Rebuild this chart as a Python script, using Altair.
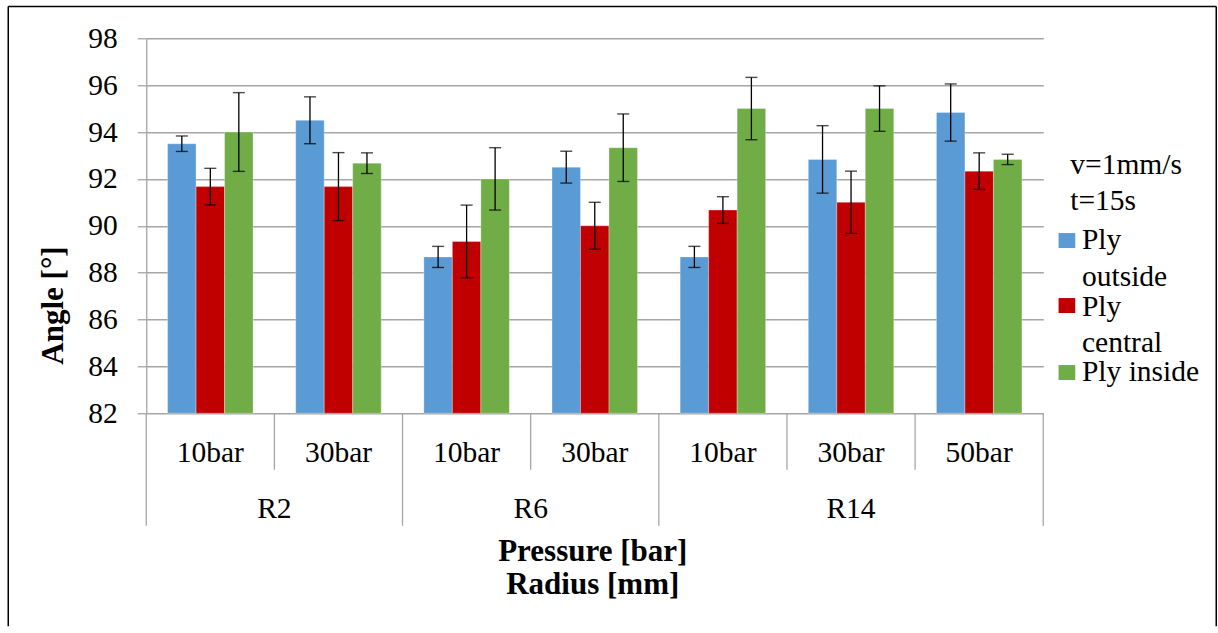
import altair as alt
import pandas as pd

# ---------------- data ----------------
radii = ["R2", "R2", "R6", "R6", "R14", "R14", "R14"]
pressures = ["10bar", "30bar", "10bar", "30bar", "10bar", "30bar", "50bar"]
series = ["Ply outside", "Ply central", "Ply inside"]
colors = ["#5B9BD5", "#C00000", "#70AD47"]

outside = [93.5, 94.5, 88.67, 92.5, 88.67, 92.83, 94.83]
outside_err = [0.33, 1.0, 0.45, 0.68, 0.45, 1.44, 1.22]
central = [91.67, 91.67, 89.33, 90.0, 90.67, 91.0, 92.33]
central_err = [0.78, 1.45, 1.55, 1.0, 0.57, 1.33, 0.78]
inside = [94.0, 92.67, 92.0, 93.33, 95.0, 95.0, 92.83]
inside_err = [1.68, 0.44, 1.33, 1.44, 1.33, 0.97, 0.22]

y_ticks = [82, 84, 86, 88, 90, 92, 94, 96, 98]
y_title = "Angle [°]"
x_title = ["Pressure [bar]", "Radius [mm]"]
legend_title = ["v=1mm/s", "t=15s"]
legend_lines = [["Ply", "outside"], ["Ply", "central"], ["Ply inside"]]

# ---------------- layout constants ----------------
W, H = 897, 375
FONT = "Liberation Serif, Times New Roman, serif"
FS = 29.5
FSB = 31
GRAY = "#A6A6A6"
BAR_FRAC = 0.2224  # bar width as fraction of one category slot

values = [outside, central, inside]
errors = [outside_err, central_err, inside_err]
n = len(pressures)

rows = []
for s, name in enumerate(series):
    for i in range(n):
        cx = i + 0.5 + (s - 1) * BAR_FRAC
        rows.append({
            "series": name, "pos": i, "value": values[s][i], "err": errors[s][i],
            "x0": cx - BAR_FRAC / 2, "x1": cx + BAR_FRAC / 2, "cx": cx,
            "lo": values[s][i] - errors[s][i], "hi": values[s][i] + errors[s][i],
            "base": y_ticks[0],
        })
df = pd.DataFrame(rows)

xscale = alt.Scale(domain=[0, n], nice=False, zero=False)
yscale = alt.Scale(domain=[y_ticks[0], y_ticks[-1]], nice=False, zero=False)
yaxis = alt.Axis(values=y_ticks, title=None, grid=True, gridColor=GRAY, gridWidth=1.3,
                 domainColor=GRAY, domainWidth=1.3, tickColor=GRAY, tickSize=9, tickWidth=1.3,
                 labelFont=FONT, labelFontSize=FS, labelColor="black", labelPadding=20,
                 labelFlush=False, labelOverlap=False)
color = alt.Color("series:N", scale=alt.Scale(domain=series, range=colors), legend=None)

bars = alt.Chart(df).mark_bar(stroke="white", strokeWidth=0.6, strokeOpacity=0.5).encode(
    x=alt.X("x0:Q", scale=xscale, axis=None),
    x2="x1:Q",
    y=alt.Y("value:Q", scale=yscale, axis=yaxis),
    y2="base:Q",
    color=color,
)

err_rule = alt.Chart(df).mark_rule(color="black", strokeWidth=1.3).encode(
    x=alt.X("cx:Q", scale=xscale, axis=None),
    y=alt.Y("lo:Q", scale=yscale, axis=yaxis),
    y2="hi:Q",
)
caps = alt.Chart(df).transform_fold(["lo", "hi"], as_=["end", "yv"]).mark_tick(
    orient="horizontal", size=12, thickness=1.4, color="black"
).encode(
    x=alt.X("cx:Q", scale=xscale, axis=None),
    y=alt.Y("yv:Q", scale=yscale, axis=yaxis),
)

# category separators below the axis
sep_rows = []
for b in range(n + 1):
    long_ = b == 0 or b == n or radii[b] != radii[b - 1]
    sep_rows.append({"b": b, "long": long_})
sep = pd.DataFrame(sep_rows)
sep_short = alt.Chart(sep[~sep["long"]]).mark_rule(color=GRAY, strokeWidth=1.3).encode(
    x=alt.X("b:Q", scale=xscale, axis=None), y=alt.value(H), y2=alt.value(H + 56.5))
sep_long = alt.Chart(sep[sep["long"]]).mark_rule(color=GRAY, strokeWidth=1.3).encode(
    x=alt.X("b:Q", scale=xscale, axis=None), y=alt.value(H), y2=alt.value(H + 112.5))

plab = pd.DataFrame({"pc": [i + 0.5 for i in range(n)], "t": pressures})
press_text = alt.Chart(plab).mark_text(font=FONT, fontSize=FS, color="black",
                                       baseline="alphabetic", align="center").encode(
    x=alt.X("pc:Q", scale=xscale, axis=None), y=alt.value(H + 48.3), text="t:N")

rad_rows = []
for r in dict.fromkeys(radii):
    idx = [i for i, v in enumerate(radii) if v == r]
    rad_rows.append({"rc": (idx[0] + idx[-1]) / 2 + 0.5, "t": r})
rad_text = alt.Chart(pd.DataFrame(rad_rows)).mark_text(
    font=FONT, fontSize=FS, color="black", baseline="alphabetic", align="center").encode(
    x=alt.X("rc:Q", scale=xscale, axis=None), y=alt.value(H + 104.3), text="t:N")

one = pd.DataFrame({"a": [0]})


def text_at(txt, x, y, bold=False, align="left", angle=None, size=FS):
    kw = dict(font=FONT, fontSize=size, color="black", baseline="alphabetic", align=align,
              text=txt)
    if bold:
        kw["fontWeight"] = "bold"
    if angle is not None:
        kw["angle"] = angle
    return alt.Chart(one).mark_text(**kw).encode(x=alt.value(x), y=alt.value(y))


layers = [bars, err_rule, caps, sep_short, sep_long, press_text, rad_text]

# axis titles
layers.append(text_at(x_title[0], W / 2 - 2, H + 147.3, bold=True, align="center", size=FSB))
layers.append(text_at(x_title[1], W / 2 - 2, H + 180.3, bold=True, align="center", size=FSB))
layers.append(text_at(y_title, -83, 267.3, bold=True, align="center", angle=270, size=FSB))

# legend
layers.append(text_at(legend_title[0], 924, 135.6))
layers.append(text_at(legend_title[1], 924, 171.3))
sq_centers = [202.3, 267.3, 334.3]
first_base = [210.6, 277.3, 342.3]
for s in range(len(series)):
    layers.append(alt.Chart(one).mark_rect(color=colors[s]).encode(
        x=alt.value(912.3), x2=alt.value(929), y=alt.value(sq_centers[s] - 7.5),
        y2=alt.value(sq_centers[s] + 7.5)))
    for k, line in enumerate(legend_lines[s]):
        layers.append(text_at(line, 935.7, first_base[s] + 36.7 * k))

# outer frame (left, top, right)
FL, FR, FT, FB = -138, 1070, -31.7, 588
frame_kw = dict(color="black", strokeWidth=1.5)
layers.append(alt.Chart(one).mark_rule(**frame_kw).encode(
    x=alt.value(FL), y=alt.value(FT), y2=alt.value(FB)))
layers.append(alt.Chart(one).mark_rule(**frame_kw).encode(
    x=alt.value(FR), y=alt.value(FT), y2=alt.value(FB)))
layers.append(alt.Chart(one).mark_rule(**frame_kw).encode(
    x=alt.value(FL), x2=alt.value(FR), y=alt.value(FT)))

chart = alt.layer(*layers).properties(
    width=W, height=H,
    padding={"left": 7.25, "top": 5.25, "right": 0, "bottom": 0},
    background="white",
).configure_view(strokeWidth=0)

chart.save("out.html", embed_options={"renderer": "svg", "actions": False})
